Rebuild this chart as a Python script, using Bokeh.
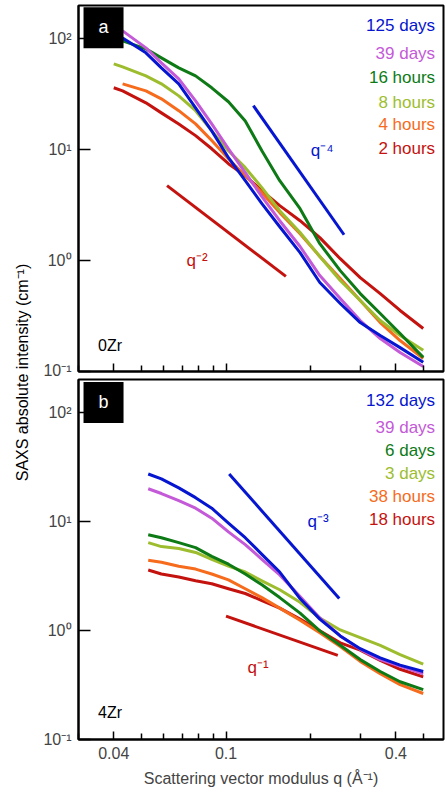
import numpy as np
from math import pi
from bokeh.plotting import figure
from bokeh.models import Range1d, FixedTicker, Label, CustomJSTickFormatter
from bokeh.layouts import row, column
from bokeh.embed import file_html
from bokeh.resources import INLINE

nan = float("nan")

# ---------------- data: panel a (0Zr) ----------------
q_a = [0.040, 0.043, 0.052, 0.059, 0.068, 0.078, 0.089, 0.102, 0.117, 0.134,
       0.155, 0.183, 0.215, 0.254, 0.299, 0.352, 0.414, 0.50]
a_125d = [nan, 102, 74.8, 54.8, 39.3, 23.9, 14.8, 8.47, 5.26, 3.26, 2.02, 1.18, 0.634, 0.410, 0.276, 0.211, 0.164, 0.121]
a_39d = [nan, 118, 83.0, 60.8, 43.6, 27.6, 17.1, 10.2, 6.21, 3.77, 2.29, 1.34, 0.733, 0.455, 0.288, 0.198, 0.148, 0.111]
a_16h = [nan, 95.9, 81.3, 67.4, 54.8, 46.4, 36.2, 27.1, 18.2, 9.79, 5.26, 2.94, 1.42, 0.812, 0.504, 0.333, 0.220, 0.134]
a_8h = [59.5, 55.9, 46.4, 39.3, 30.6, 22.5, 14.8, 9.79, 6.89, 4.55, 2.82, 1.79, 1.09, 0.661, 0.436, 0.288, 0.211, 0.155]
a_4h = [nan, 39.3, 34.0, 28.8, 22.5, 17.1, 12.1, 8.30, 5.83, 4.10, 2.71, 1.75, 1.09, 0.689, 0.436, 0.276, 0.190, 0.131]
a_2h = [36.2, 34.0, 26.5, 21.5, 17.1, 13.4, 10.2, 7.48, 5.83, 4.27, 3.13, 2.29, 1.61, 1.04, 0.703, 0.504, 0.355, 0.244]
a_names = ["125 days", "39 days", "16 hours", "8 hours", "4 hours", "2 hours"]
a_name_y = [131, 73.3, 44.5, 26.5, 16.8, 10.2]

# ---------------- data: panel b (4Zr) ----------------
q_b = [0.053, 0.059, 0.068, 0.078, 0.089, 0.102, 0.117, 0.134, 0.155, 0.183,
       0.215, 0.254, 0.299, 0.352, 0.414, 0.50]
b_132d = [27.2, 24.5, 20.3, 16.5, 13.2, 9.66, 7.08, 4.98, 3.43, 1.96, 1.27, 0.89, 0.68, 0.56, 0.48, 0.42]
b_39d = [19.9, 18.0, 15.5, 13.2, 10.7, 8.01, 6.12, 4.49, 3.23, 2.05, 1.30, 0.89, 0.67, 0.54, 0.47, 0.40]
b_6d = [7.53, 7.08, 6.38, 5.75, 4.78, 4.05, 3.29, 2.62, 2.00, 1.44, 0.99, 0.73, 0.54, 0.42, 0.338, 0.286]
b_3d = [6.38, 5.87, 5.64, 5.19, 4.49, 3.88, 3.43, 2.85, 2.36, 1.81, 1.30, 1.01, 0.86, 0.73, 0.60, 0.49]
b_38h = [4.40, 4.22, 3.88, 3.65, 3.29, 2.91, 2.41, 2.00, 1.60, 1.24, 0.95, 0.71, 0.52, 0.40, 0.318, 0.264]
b_18h = [3.58, 3.29, 3.09, 2.85, 2.68, 2.41, 2.18, 1.88, 1.60, 1.27, 0.99, 0.77, 0.66, 0.53, 0.44, 0.375]
b_names = ["132 days", "39 days", "6 days", "3 days", "38 hours", "18 hours"]
b_name_y = [128, 73.3, 44.6, 27.2, 16.9, 10.3]

# power-law guide lines (q, I) end points and their labels
a_pow4_q = [0.125, 0.262]
a_pow4_i = [25.0, 1.71]
a_pow2_q = [0.0618, 0.163]
a_pow2_i = [4.75, 0.72]
b_pow3_q = [0.1026, 0.252]
b_pow3_i = [27.2, 1.96]
b_pow1_q = [0.100, 0.249]
b_pow1_i = [1.35, 0.59]

colors = ["#0515d0", "#c45ad8", "#0d7a16", "#9dbd2f", "#f66b1c", "#c4120e"]
FONT = "Liberation Sans"
BLACK = "#000000"

YFMT = """
const sup = {"0":"\u2070","1":"\u00b9","2":"\u00b2","3":"\u00b3","4":"\u2074","5":"\u2075",
             "6":"\u2076","7":"\u2077","8":"\u2078","9":"\u2079","-":"\u207b"};
const e = String(Math.round(Math.log10(tick)));
let s = "";
for (const ch of e) { s += sup[ch]; }
return "10" + s;
"""


def make_panel(q, series, names, name_y, tag, tag_y, sample, sample_y,
               top, bottom, fh, show_x):
    p = figure(x_axis_type="log", y_axis_type="log",
               x_range=Range1d(0.03, 0.59), y_range=Range1d(0.0999, 200),
               frame_width=365, frame_height=fh,
               min_border_left=38, min_border_right=3,
               min_border_top=top, min_border_bottom=bottom,
               toolbar_location=None, output_backend="svg")
    p.grid.visible = False
    p.outline_line_color = BLACK
    p.outline_line_width = 2
    p.background_fill_color = "white"
    p.border_fill_color = "white"

    xa = p.xaxis[0]
    xa.ticker = FixedTicker(ticks=[0.04, 0.1, 0.4],
                            minor_ticks=[0.03, 0.05, 0.06, 0.07, 0.08, 0.09, 0.2, 0.3, 0.5])
    xa.major_tick_in = 8
    xa.major_tick_out = 0
    xa.minor_tick_in = 6
    xa.minor_tick_out = 0
    xa.major_tick_line_width = 1.5
    xa.minor_tick_line_width = 1.5
    xa.axis_line_width = 2
    if show_x:
        xa.formatter = CustomJSTickFormatter(code="return String(tick);")
        xa.major_label_text_font = FONT
        xa.major_label_text_font_size = "16px"
        xa.major_label_standoff = 7
        xa.axis_label = "Scattering vector modulus q (\u00c5\u207b\u00b9)"
        xa.axis_label_text_font = FONT
        xa.axis_label_text_font_size = "16px"
        xa.axis_label_text_font_style = "normal"
        xa.axis_label_standoff = 8
    else:
        xa.formatter = CustomJSTickFormatter(code="return '';")
        xa.major_label_text_font_size = "1px"
        xa.major_label_standoff = 0

    ya = p.yaxis[0]
    ya.ticker = FixedTicker(ticks=[0.1, 1, 10, 100], minor_ticks=[])
    ya.formatter = CustomJSTickFormatter(code=YFMT)
    ya.major_tick_in = 12
    ya.major_tick_out = 0
    ya.minor_tick_in = 0
    ya.minor_tick_out = 0
    ya.major_tick_line_width = 1.5
    ya.axis_line_width = 2
    ya.major_label_text_font = FONT
    ya.major_label_text_font_size = "16px"
    ya.major_label_standoff = 7

    qq = np.array(q, dtype=float)
    # draw oldest-last so it sits on top
    for s, c in list(zip(series, colors))[::-1]:
        p.line(qq, np.array(s, dtype=float), line_color=c, line_width=3,
               line_join="round")

    for n, y, c in zip(names, name_y, colors):
        p.add_layout(Label(x=0.551, y=y, text=n, text_color=c, text_align="right",
                           text_baseline="middle", text_font=FONT, text_font_size="17px"))

    p.add_layout(Label(x=0.0368, y=tag_y, text=tag, text_color="white",
                       background_fill_color=BLACK, text_align="center",
                       text_baseline="middle", text_font=FONT, text_font_size="18px",
                       padding=dict(left=15, right=15, top=10, bottom=11)))
    p.add_layout(Label(x=0.0352, y=sample_y, text=sample, text_color=BLACK,
                       text_align="left", text_baseline="middle",
                       text_font=FONT, text_font_size="16px"))
    return p


fa = make_panel(q_a, [a_125d, a_39d, a_16h, a_8h, a_4h, a_2h], a_names, a_name_y,
                "a", 126, "0Zr", 0.171, 5, 7, 366, False)
fb = make_panel(q_b, [b_132d, b_39d, b_6d, b_3d, b_38h, b_18h], b_names, b_name_y,
                "b", 123, "4Zr", 0.178, 1, 10, 360, True)

BLUE, RED = colors[0], colors[5]
fa.line(a_pow4_q, a_pow4_i, line_color=BLUE, line_width=3)
fa.line(a_pow2_q, a_pow2_i, line_color=RED, line_width=3)
fb.line(b_pow3_q, b_pow3_i, line_color=BLUE, line_width=3)
fb.line(b_pow1_q, b_pow1_i, line_color=RED, line_width=3)
fa.add_layout(Label(x=0.219, y=9.8, text="q\u207b\u2074", text_color=BLUE, text_align="center",
                    text_baseline="middle", text_font=FONT, text_font_size="17px"))
fa.add_layout(Label(x=0.0789, y=1.0, text="q\u207b\u00b2", text_color=RED, text_align="center",
                    text_baseline="middle", text_font=FONT, text_font_size="17px"))
fb.add_layout(Label(x=0.212, y=10.0, text="q\u207b\u00b3", text_color=BLUE, text_align="center",
                    text_baseline="middle", text_font=FONT, text_font_size="17px"))
fb.add_layout(Label(x=0.130, y=0.46, text="q\u207b\u00b9", text_color=RED, text_align="center",
                    text_baseline="middle", text_font=FONT, text_font_size="17px"))

H = 792
lab = figure(width=40, height=H, x_range=Range1d(0, 40), y_range=Range1d(0, H),
             x_axis_type=None, y_axis_type=None, toolbar_location=None,
             output_backend="svg", min_border=0, outline_line_color=None)
lab.add_layout(Label(x=22, y=H - 372, text="SAXS absolute intensity (cm\u207b\u00b9)",
                     angle=pi / 2, text_align="center", text_baseline="middle",
                     text_font=FONT, text_font_size="16px", text_color=BLACK))

layout = row(lab, column(fa, fb))
open("out.html", "w").write(file_html(layout, INLINE))
